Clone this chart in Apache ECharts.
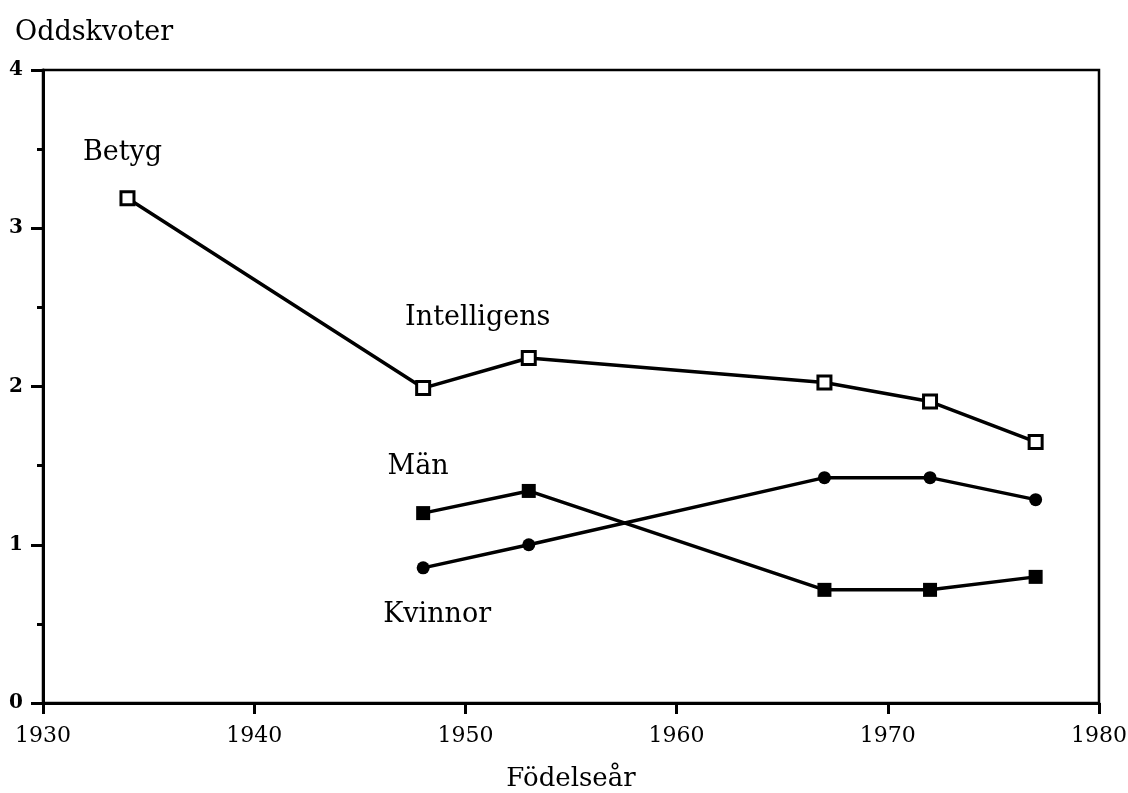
<!DOCTYPE html>
<html>
<head>
<meta charset="utf-8">
<script src="https://cdn.jsdelivr.net/npm/echarts@6/dist/echarts.min.js"></script>
<style>
  html, body { margin: 0; padding: 0; background: #fff; }
  #chart { width: 1128px; height: 793px; }
</style>
</head>
<body>
<div id="chart"></div>
<script>
// födelseår per punkt
const yearsBetyg = [1934, 1948, 1953, 1967, 1972, 1977];
const betygValues = [3.19, 1.99, 2.18, 2.025, 1.905, 1.65];
const yearsKon = [1948, 1953, 1967, 1972, 1977];
const manValues = [1.2, 1.34, 0.715, 0.715, 0.797];
const kvinnorValues = [0.854, 1.0, 1.424, 1.424, 1.285];

const FONT = "DejaVu Serif";

// etikett på en punkt
function pointLabel(text, offset) {
  return {
    show: true,
    formatter: text,
    position: "inside",
    offset: offset,
    color: "#000",
    fontFamily: FONT,
    fontSize: 27,
  };
}

function toPoints(xs, ys, labels) {
  return xs.map((x, i) => {
    const item = { value: [x, ys[i]] };
    if (labels[i]) item.label = labels[i];
    return item;
  });
}

const chart = echarts.init(document.getElementById("chart"));
const option = {
  backgroundColor: "#fff",
  animation: false,
  grid: {
    left: 43,
    right: 29,
    top: 70,
    bottom: 90,
    outerBoundsMode: "none",
    containLabel: false,
    show: true,
    borderColor: "#000",
    borderWidth: 2.5,
  },
  xAxis: {
    type: "value",
    min: 1930,
    max: 1980,
    interval: 10,
    name: "Födelseår",
    nameLocation: "middle",
    nameGap: 63,
    nameTextStyle: { fontFamily: FONT, fontSize: 26, color: "#000" },
    axisLine: { show: true, lineStyle: { color: "#000", width: 3 } },
    axisTick: { show: true, length: 11, lineStyle: { color: "#000", width: 3 } },
    axisLabel: {
      fontFamily: FONT, fontSize: 22, color: "#000", margin: 22,
      formatter: (v) => String(v),
    },
    splitLine: { show: false },
  },
  yAxis: {
    type: "value",
    min: 0,
    max: 4,
    interval: 1,
    name: "Oddskvoter",
    nameLocation: "end",
    nameGap: 24,
    nameTextStyle: { fontFamily: FONT, fontSize: 27, color: "#000", align: "left", padding: [0, 0, 0, -28] },
    axisLine: { show: true, lineStyle: { color: "#000", width: 3 } },
    axisTick: { show: true, length: 12, lineStyle: { color: "#000", width: 3 } },
    minorTick: { show: true, splitNumber: 2, length: 6, lineStyle: { color: "#000", width: 3 } },
    axisLabel: { fontFamily: FONT, fontSize: 20, fontWeight: "bold", color: "#000", margin: 20 },
    splitLine: { show: false },
  },
  series: [
    {
      name: "Betyg",
      type: "line",
      data: toPoints(yearsBetyg, betygValues, [
        pointLabel("Betyg", [-5, -45]),
        null,
        pointLabel("Intelligens", [-51, -40]),
      ]),
      symbol: "rect",
      symbolSize: 13,
      lineStyle: { color: "#000", width: 3.5 },
      itemStyle: { color: "#fff", borderColor: "#000", borderWidth: 3 },
    },
    {
      name: "Män",
      type: "line",
      data: toPoints(yearsKon, manValues, [pointLabel("Män", [-5, -46])]),
      symbol: "rect",
      symbolSize: 14,
      lineStyle: { color: "#000", width: 3.5 },
      itemStyle: { color: "#000" },
    },
    {
      name: "Kvinnor",
      type: "line",
      data: toPoints(yearsKon, kvinnorValues, [pointLabel("Kvinnor", [14, 47])]),
      symbol: "circle",
      symbolSize: 13,
      lineStyle: { color: "#000", width: 3.5 },
      itemStyle: { color: "#000" },
    },
  ],
};
chart.setOption(option);
</script>
</body>
</html>
